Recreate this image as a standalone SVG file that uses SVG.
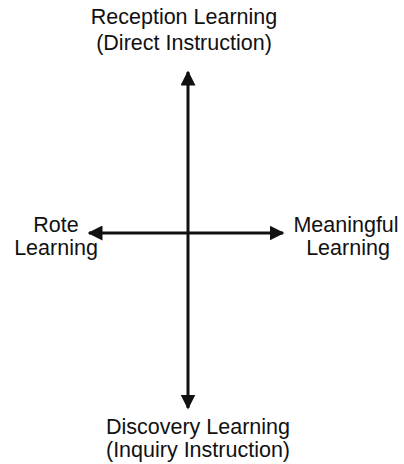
<svg xmlns="http://www.w3.org/2000/svg" width="404" height="464" viewBox="0 0 404 464">
<style>
text{font-family:"Liberation Sans",Arial,sans-serif;font-size:21.5px;fill:#111;text-anchor:middle}
.ax{stroke:#111;stroke-width:3;fill:none}
</style>
<defs>
<marker id="ah" viewBox="0 0 10 10" refX="9" refY="5" markerWidth="5" markerHeight="5" markerUnits="strokeWidth" orient="auto">
<path d="M0,0L10,5L0,10z" fill="#111"/>
</marker>
</defs>
<rect width="404" height="464" fill="#fff"/>
<g id="connectors">
<line class="ax" x1="188" y1="233" x2="188" y2="72" marker-end="url(#ah)"/>
<line class="ax" x1="188" y1="233" x2="188" y2="408" marker-end="url(#ah)"/>
<line class="ax" x1="188" y1="233" x2="89" y2="233" marker-end="url(#ah)"/>
<line class="ax" x1="188" y1="233" x2="283" y2="233" marker-end="url(#ah)"/>
</g>
<g id="reception"><text x="184" y="24">Reception Learning</text><text x="184" y="50">(Direct Instruction)</text></g>
<g id="rote"><text x="56" y="232">Rote</text><text x="56" y="255">Learning</text></g>
<g id="meaningful"><text x="346" y="232">Meaningful</text><text x="348" y="255">Learning</text></g>
<g id="discovery"><text x="198" y="434">Discovery Learning</text><text x="198" y="457">(Inquiry Instruction)</text></g>
</svg>
